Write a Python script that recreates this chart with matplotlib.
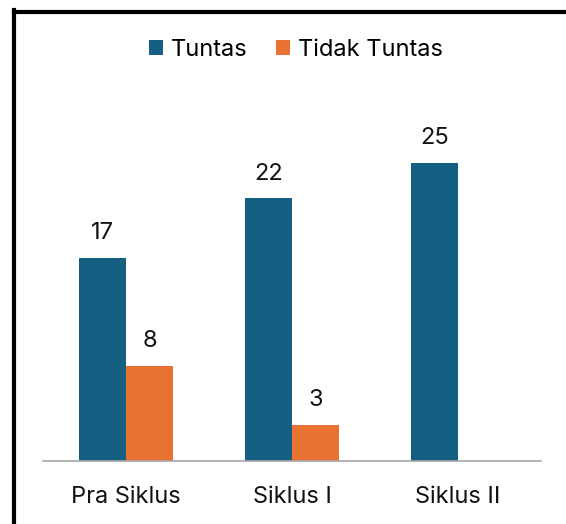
import matplotlib.pyplot as plt
from matplotlib.lines import Line2D
import numpy as np

categories = ["Pra Siklus", "Siklus I", "Siklus II"]
tuntas = [17, 22, 25]
tidak_tuntas = [8, 3, None]

blue = "#156082"
orange = "#E97132"
fs = 17

plt.rcParams['font.family'] = ['Inter', 'DejaVu Sans']

W, H = 566, 524
fig = plt.figure(figsize=(W / 100, H / 100), dpi=100)
# axes in pixel coords: x 43..541, y 103..461 (top-down)
ax = fig.add_axes([43 / W, 1 - 461 / H, (541 - 43) / W, (461 - 103) / H])

x = np.arange(len(categories))
bw = 0.283
for i, v in enumerate(tuntas):
    ax.bar(x[i] - bw / 2, v, bw, color=blue, label="Tuntas" if i == 0 else None)
    ax.annotate(str(v), (x[i] - bw / 2, v), xytext=(0, 10), textcoords="offset points",
                ha="center", va="bottom", fontsize=fs, color="#111111")
for i, v in enumerate(tidak_tuntas):
    if v is None:
        continue
    ax.bar(x[i] + bw / 2, v, bw, color=orange, label="Tidak Tuntas" if i == 0 else None)
    ax.annotate(str(v), (x[i] + bw / 2, v), xytext=(0, 10), textcoords="offset points",
                ha="center", va="bottom", fontsize=fs, color="#111111")

ax.set_xlim(-0.5, 2.5)
ax.set_ylim(0, 30)
ax.set_xticks(x)
ax.set_xticklabels(categories, fontsize=fs, color="#111111")
ax.tick_params(axis="x", length=0, pad=18)
ax.set_yticks([])
for s in ["top", "right", "left"]:
    ax.spines[s].set_visible(False)
ax.spines["bottom"].set_color("#A6A6A6")
ax.spines["bottom"].set_linewidth(1.2)

fig.legend(loc="center", bbox_to_anchor=(296 / W, 1 - 49.5 / H), ncol=2, frameon=False,
           fontsize=fs, handlelength=0.6, handleheight=0.6, handletextpad=0.35,
           columnspacing=1.2)

# black frame on left and top
fig.add_artist(Line2D([14 / W, 14 / W], [0, 1 - 10 / H], color="black", lw=3,
                      transform=fig.transFigure, solid_capstyle="projecting"))
fig.add_artist(Line2D([14 / W, 1], [1 - 11.5 / H, 1 - 11.5 / H], color="black", lw=3,
                      transform=fig.transFigure, solid_capstyle="projecting"))

fig.savefig("out.png", dpi=100)
